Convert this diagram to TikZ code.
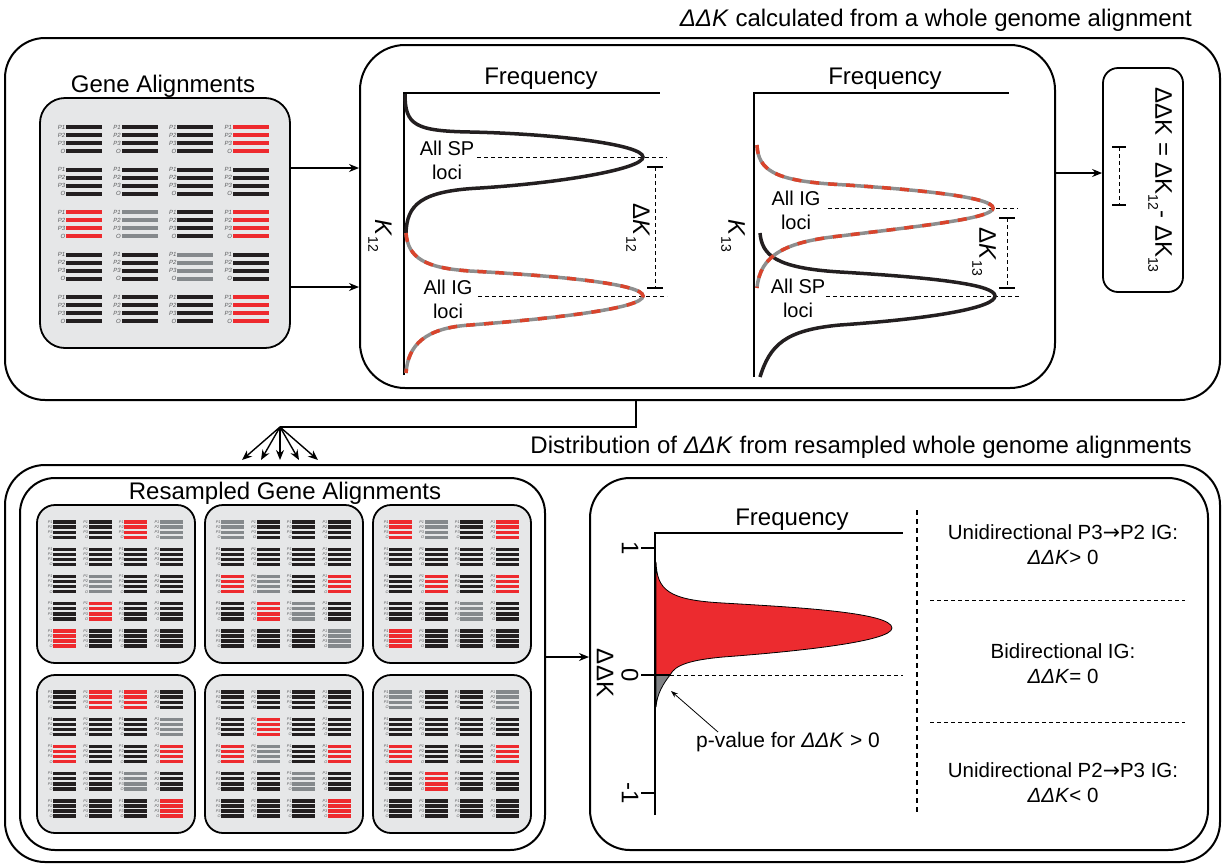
\documentclass[tikz,border=0pt]{standalone}
\usepackage{fontspec}
\setmainfont{Liberation Sans}
\newfontfamily\arrowfont{DejaVu Sans}
\usetikzlibrary{arrows.meta, positioning, calc}
\definecolor{alnk}{HTML}{231F20}
\definecolor{alnr}{HTML}{EE2A2E}
\definecolor{alng}{HTML}{85898C}
\definecolor{panelgray}{HTML}{E6E7E8}
\definecolor{seqgray}{HTML}{58595B}
\definecolor{igred}{HTML}{D9442C}
\definecolor{iggray}{HTML}{8E8E8E}
\definecolor{distred}{HTML}{EC2B2F}
\definecolor{distgray}{HTML}{808285}

\newcommand{\lowsub}[1]{\raisebox{-0.55ex}{\fontsize{14}{14}\selectfont#1}}
% #1,#2 first bar, #3 scale, #4 name, #5 colour rows
\newcommand{\alngrid}[5]{%
  \foreach \row [count=\i from 0] in {#5}{
    \foreach \c [count=\j from 0] in \row{
      \foreach \t [count=\k from 0] in {P1,P2,P3,O}{
        \fill[aln\c] ({#1+\j*55.6*#3},{#2+\i*42.5*#3+\k*8*#3-(1.15+0.85*#3)}) rectangle ++({36*#3},{2.3+1.7*#3});
        \node[seq, scale=#3] (#4-\i-\j-\k) at ({#1+\j*55.6*#3},{#2+\i*42.5*#3+\k*8*#3}) {\t};
      }}}}

\begin{document}
\begin{tikzpicture}[
  x=1pt, y=-1pt,
  box/.style={draw, line width=2pt, rounded corners=40pt, inner sep=0pt},
  panel/.style={draw, line width=1.8pt, fill=panelgray, rounded corners=18pt, inner sep=0pt},
  big/.style={font=\fontsize{24}{28}\selectfont, inner sep=0pt},
  lbl/.style={font=\fontsize{20}{24}\selectfont, align=center, inner sep=0pt},
  seq/.style={font=\fontsize{6}{6}\selectfont\itshape, text=seqgray, anchor=east, inner sep=0.6pt},
  arr/.style={-{Stealth[length=10pt, width=8pt]}, line width=1.4pt},
  axis/.style={line width=1.6pt},
  guide/.style={line width=1pt, dash pattern=on 4pt off 3pt},
  spline/.style={line width=3.5pt, alnk},
  igline/.style={line width=3.5pt, igred, dash pattern=on 9pt off 9pt, preaction={draw, solid, iggray, line width=3.5pt}},
  barcap/.style={line width=2.8pt}
]
\useasboundingbox (0,0) rectangle (1225,865);

% ---- top half
\node[box, minimum width=1215pt, minimum height=362pt] (top) at (612.5,219) {};
\node[big, anchor=base east] (toptitle) at (1192,26) {\textit{ΔΔK} calculated from a whole genome alignment};

\node[panel, rounded corners=25pt, minimum width=250pt, minimum height=250pt] (genes) at (165,223) {};
\node[big, anchor=base] (geneslbl) at (163,92) {Gene Alignments};
\alngrid{66}{127}{1}{g}{{k,k,k,r},{k,k,k,k},{r,g,k,r},{k,k,g,k},{k,k,k,r}}

\node[box, rounded corners=45pt, minimum width=695pt, minimum height=343pt] (curves) at (707.5,216.5) {};
\draw[arr] (genes.east |- 0,168) -- (curves.west |- 0,168);
\draw[arr] (genes.east |- 0,287) -- (curves.west |- 0,287);

% plot K12
\draw[axis] (404,375) -- (404,93) -- (660,93);
\node[big, anchor=base] (freq1) at (541,84) {Frequency};
\node[big, rotate=-90] (k12) at (380,236) {\textit{K}\lowsub{12}};
\draw[guide] (477,157) -- (667,157);
\draw[guide] (478,296) -- (667,296);
\draw[spline] (405,94) .. controls (405,125) and (415,131) .. (470,132)
  .. controls (560,134) and (643,145) .. (643,157)
  .. controls (643,169) and (560,183) .. (480,188)
  .. controls (420,191) and (407,205) .. (406,233);
\draw[igline] (406,233) .. controls (408,258) and (425,268) .. (470,271)
  .. controls (560,276) and (643,284) .. (643,296)
  .. controls (643,308) and (560,318) .. (470,325)
  .. controls (425,328) and (408,345) .. (406,373);
\node[lbl] (sp1) at (447,160) {All SP\\loci};
\node[lbl] (ig1) at (448,299) {All IG\\loci};
\draw[guide] (655,167) -- (655,288);
\draw[barcap] (647,167) -- (663,167);
\draw[barcap] (647,288) -- (663,288);
\node[big, rotate=-90] (dk12) at (638,228) {Δ\textit{K}\lowsub{12}};

% plot K13
\draw[axis] (754,377) -- (754,93) -- (1009,93);
\node[big, anchor=base] (freq2) at (885,84) {Frequency};
\node[big, rotate=-90] (k13) at (733,236) {\textit{K}\lowsub{13}};
\draw[guide] (828,208) -- (1018,208);
\draw[guide] (826,296) -- (1020,296);
\draw[spline] (760,233) .. controls (762,255) and (775,268) .. (840,272)
  .. controls (940,278) and (995,285) .. (995,296)
  .. controls (995,307) and (940,318) .. (840,325)
  .. controls (785,330) and (770,345) .. (760,377);
\draw[igline] (757,145) .. controls (758,170) and (775,180) .. (830,184)
  .. controls (930,190) and (993,198) .. (993,208)
  .. controls (993,218) and (930,225) .. (840,236)
  .. controls (785,242) and (760,255) .. (757,288);
\node[lbl] (ig2) at (796,210) {All IG\\loci};
\node[lbl] (sp2) at (798,298) {All SP\\loci};
\draw[guide] (1007,218) -- (1007,288);
\draw[barcap] (999,218) -- (1015,218);
\draw[barcap] (999,288) -- (1015,288);
\node[big, rotate=-90] (dk13) at (984,252) {Δ\textit{K}\lowsub{13}};

% formula
\node[box, line width=1.8pt, rounded corners=15pt, minimum width=80pt, minimum height=224pt] (ddk) at (1143,180) {};
\draw[arr] (curves.east |- 0,173) -- (ddk.west |- 0,173);
\node[big, rotate=-90] (formula) at (1160,180) {ΔΔK = ΔK\lowsub{12}- ΔK\lowsub{13}};
\draw[guide] (1119,147) -- (1119,205);
\draw[barcap] (1112,147) -- (1126,147);
\draw[barcap] (1112,205) -- (1126,205);

% ---- connector to resampling
\coordinate (drop) at (636,400);
\coordinate (fan) at (280,427);
\draw[line width=1.4pt] (drop) |- (fan);
\foreach \x [count=\i] in {242,261,280,299,318}{
  \coordinate (fan\i) at (\x,460);
  \draw[arr] (fan) -- (fan\i);
}

% ---- bottom half
\node[box, minimum width=1215pt, minimum height=397pt] (bottom) at (612.5,663.5) {};
\node[big, anchor=base east] (bottomtitle) at (1192,453) {Distribution of \textit{ΔΔK} from resampled whole genome alignments};

\node[box, rounded corners=35pt, minimum width=525pt, minimum height=372pt] (resamp) at (282.5,664) {};
\node[big, anchor=base] (resamplbl) at (285,499) {Resampled Gene Alignments};

\node[panel, minimum width=158pt, minimum height=158pt] (pa) at (116,584) {};
\node[panel, minimum width=158pt, minimum height=158pt] (pb) at (284,584) {};
\node[panel, minimum width=158pt, minimum height=158pt] (pc) at (452,584) {};
\node[panel, minimum width=158pt, minimum height=158pt] (pd) at (116,754) {};
\node[panel, minimum width=158pt, minimum height=158pt] (pe) at (284,754) {};
\node[panel, minimum width=158pt, minimum height=158pt] (pf) at (452,754) {};
\alngrid{53}{522}{0.64}{a}{{k,k,r,g},{k,k,k,k},{k,g,k,k},{k,r,k,k},{r,k,k,k}}
\alngrid{221}{522}{0.64}{b}{{g,k,k,k},{k,k,k,k},{r,g,k,r},{k,r,g,k},{k,k,k,g}}
\alngrid{389}{522}{0.64}{c}{{r,g,k,r},{k,k,k,k},{k,r,k,r},{k,k,g,k},{r,k,k,k}}
\alngrid{53}{692}{0.64}{d}{{k,r,r,k},{k,k,k,g},{r,k,k,r},{k,k,g,k},{k,k,k,r}}
\alngrid{221}{692}{0.64}{e}{{k,k,k,k},{k,r,k,k},{r,g,k,r},{k,k,g,k},{k,k,k,r}}
\alngrid{389}{692}{0.64}{f}{{g,k,k,g},{k,k,k,k},{r,k,k,r},{k,r,k,k},{k,k,k,k}}

\node[box, minimum width=618pt, minimum height=372pt] (dist) at (899,664) {};
\draw[arr] (resamp.east |- 0,657) -- (dist.west |- 0,657);

% distribution of ddK
\fill[distred, draw=black, line width=0.8pt] (656,562) .. controls (657,590) and (668,600) .. (723,603)
  .. controls (790,607) and (892,612) .. (892,628)
  .. controls (892,642) and (790,652) .. (723,657)
  .. controls (690,660) and (675,665) .. (670,675) -- (656,675) -- cycle;
\fill[distgray, draw=black, line width=0.8pt] (670,675) .. controls (663,684) and (657,694) .. (656,707) -- (656,675) -- cycle;
\draw[axis] (655,815) -- (655,533) -- (903,533);
\node[big, anchor=base] (freq3) at (792,525) {Frequency};
\draw[axis] (641,548) -- (655,548);
\draw[line width=2.5pt] (641,675) -- (670,675);
\draw[axis] (641,793) -- (655,793);
\draw[guide] (670,675) -- (903,675);
\node[big, rotate=-90] (t1) at (630,548) {1};
\node[big, rotate=-90] (t0) at (630,675) {0};
\node[big, rotate=-90] (tm1) at (630,793) {-1};
\node[big, rotate=-90] (ddkaxis) at (605,673) {ΔΔK};
\node[lbl, font=\fontsize{21}{25}\selectfont] (pval) at (788,742) {p-value for \textit{ΔΔK} > 0};
\coordinate (ptail) at (671,691);
\draw[-{Stealth[length=7pt, width=5pt]}, line width=0.8pt] ([xshift=-70pt]pval.north) -- (ptail);

% interpretation
\draw[line width=1.2pt, dash pattern=on 5pt off 4pt] (917,510) -- (917,815);
\draw[line width=1pt, dash pattern=on 4pt off 3pt] (930,600) -- (1185,600);
\draw[line width=1pt, dash pattern=on 4pt off 3pt] (930,722) -- (1185,722);
\node[lbl, font=\fontsize{20.5}{25}\selectfont] (uni32) at (1063,545) {Unidirectional P3{\arrowfont →}P2 IG:\\\textit{ΔΔK}> 0};
\node[lbl, font=\fontsize{20.5}{25}\selectfont] (bidir) at (1063,664) {Bidirectional IG:\\\textit{ΔΔK}= 0};
\node[lbl, font=\fontsize{20.5}{25}\selectfont] (uni23) at (1063,783) {Unidirectional P2{\arrowfont →}P3 IG:\\\textit{ΔΔK}< 0};
\end{tikzpicture}
\end{document}
